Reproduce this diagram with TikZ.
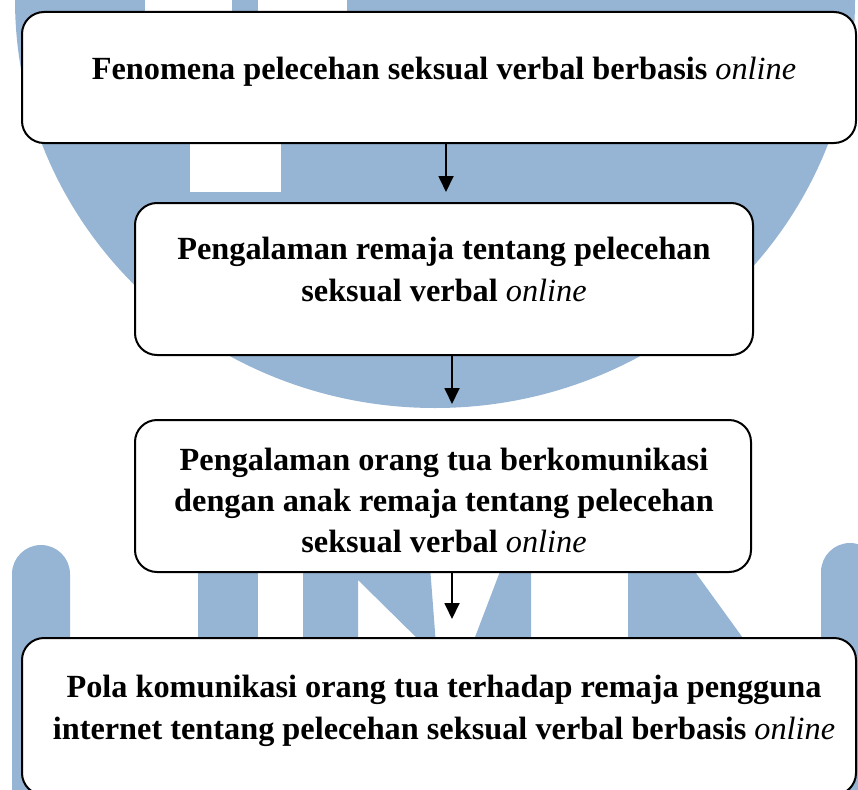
\documentclass[tikz,border=0pt]{standalone}
\usepackage{fontspec}
\setmainfont{Liberation Serif}
\usetikzlibrary{arrows.meta}
\definecolor{wm}{RGB}{150,180,211}
\begin{document}
\begin{tikzpicture}[x=1pt,y=-1pt,
  box/.style={draw=black, line width=2pt, fill=white, rounded corners=22pt, inner sep=0pt},
  txt/.style={font=\fontsize{32.3}{41}\selectfont\bfseries, inner sep=0pt, anchor=base},
  arr/.style={line width=1.8pt, -{Triangle[length=16pt,width=15pt]}}]
\useasboundingbox (0,0) rectangle (858,789);
% watermark
\begin{scope}
\clip (0,0) rectangle (858,789);
\fill[wm] (435,0) ellipse [x radius=420pt, y radius=408pt];
\fill[white] (145,-5) rectangle (232,20);
\fill[white] (258,-5) rectangle (347,20);
\fill[white] (190,130) rectangle (281,192);
\fill[wm] (12,800) -- (12,574) arc[start angle=180, end angle=0, radius=29pt] -- (70,800) -- cycle;
\fill[wm] (821,800) -- (821,572) arc[start angle=180, end angle=0, radius=29pt] -- (879,800) -- cycle;
\fill[wm] (198,520) rectangle (258,700);
\fill[wm] (303,540) -- (428,540) -- (436,645) -- (424,645) -- (358,580) -- (358,645) -- (303,645) -- cycle;
\fill[wm] (512,540) -- (531,540) -- (531,645) -- (472,645) -- cycle;
\fill[wm] (628,540) -- (672,540) -- (748,645) -- (628,645) -- cycle;
\end{scope}
% boxes
\node[box, minimum width=834pt, minimum height=131pt] (b1) at (439,77.5) {};
\node[box, minimum width=618pt, minimum height=152pt] (b2) at (444,279) {};
\node[box, minimum width=616pt, minimum height=152pt] (b3) at (443,496) {};
\node[box, minimum width=834pt, minimum height=157pt] (b4) at (439,716.5) {};
% texts
\node[txt] (t1) at (444,80) {Fenomena pelecehan seksual verbal berbasis {\mdseries\itshape online}};
\node[txt] (t2a) at (444,259) {Pengalaman remaja tentang pelecehan};
\node[txt] (t2b) at (444,301) {seksual verbal {\mdseries\itshape online}};
\node[txt] (t3a) at (444,470) {Pengalaman orang tua berkomunikasi};
\node[txt] (t3b) at (444,511) {dengan anak remaja tentang pelecehan};
\node[txt] (t3c) at (444,552) {seksual verbal {\mdseries\itshape online}};
\node[txt] (t4a) at (444,697) {Pola komunikasi orang tua terhadap remaja pengguna};
\node[txt] (t4b) at (444,739) {internet tentang pelecehan seksual verbal berbasis {\mdseries\itshape online}};
% arrows
\coordinate (c1) at (446,0);
\coordinate (c2) at (452,0);
\draw[arr, shorten >=10pt] (b1.south -| c1) -- (b2.north -| c1);
\draw[arr, shorten >=15pt] (b2.south -| c2) -- (b3.north -| c2);
\draw[arr, shorten >=18pt] (b3.south -| c2) -- (b4.north -| c2);
\end{tikzpicture}
\end{document}
